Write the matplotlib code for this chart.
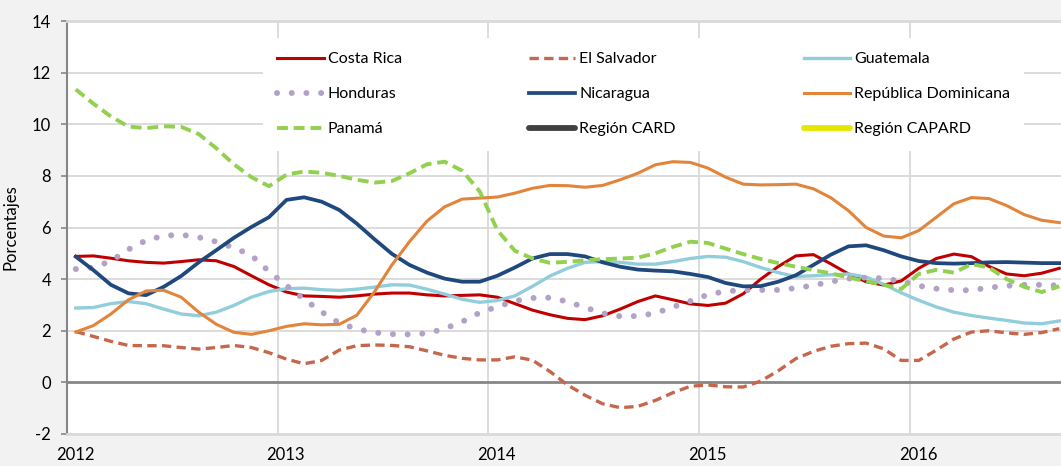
import numpy as np
import matplotlib
matplotlib.use("Agg")
import matplotlib.pyplot as plt
from matplotlib.transforms import ScaledTranslation

plt.rcParams['font.family'] = ['Lato', 'DejaVu Sans']
plt.rcParams['axes.unicode_minus'] = False

# monthly series, Jan 2012 .. Sep 2016 (percent)
costa_rica = [4.88, 4.9, 4.81, 4.71, 4.65, 4.62, 4.68, 4.75, 4.71, 4.49, 4.13, 3.78,
              3.5, 3.35, 3.33, 3.3, 3.35, 3.42, 3.46, 3.46, 3.39, 3.35, 3.37, 3.39,
              3.3, 3.05, 2.8, 2.62, 2.48, 2.43, 2.58, 2.84, 3.13, 3.35, 3.2, 3.04,
              2.98, 3.07, 3.43, 4.0, 4.49, 4.9, 4.95, 4.59, 4.2, 3.9, 3.77, 3.93,
              4.42, 4.8, 4.97, 4.87, 4.49, 4.2, 4.13, 4.23, 4.42]
el_salvador = [1.97, 1.78, 1.59, 1.43, 1.42, 1.42, 1.35, 1.29, 1.35, 1.43, 1.35, 1.15,
               0.9, 0.72, 0.85, 1.25, 1.42, 1.45, 1.43, 1.38, 1.22, 1.05, 0.93, 0.87,
               0.87, 0.99, 0.86, 0.42, -0.1, -0.5, -0.83, -0.98, -0.93, -0.7, -0.4, -0.15,
               -0.1, -0.17, -0.18, 0.05, 0.45, 0.92, 1.2, 1.4, 1.5, 1.52, 1.3, 0.85,
               0.85, 1.25, 1.68, 1.95, 2.0, 1.92, 1.86, 1.93, 2.08]
guatemala = [2.88, 2.9, 3.05, 3.13, 3.05, 2.84, 2.65, 2.58, 2.72, 2.98, 3.3, 3.52,
             3.63, 3.65, 3.59, 3.56, 3.61, 3.69, 3.78, 3.77, 3.61, 3.42, 3.22, 3.1,
             3.17, 3.35, 3.72, 4.12, 4.42, 4.65, 4.68, 4.65, 4.58, 4.58, 4.68, 4.8,
             4.88, 4.85, 4.68, 4.45, 4.25, 4.1, 4.13, 4.17, 4.2, 4.08, 3.8, 3.47,
             3.18, 2.92, 2.72, 2.59, 2.49, 2.4, 2.3, 2.27, 2.38]
honduras = [4.39, 4.45, 4.7, 5.15, 5.5, 5.68, 5.72, 5.62, 5.45, 5.22, 4.92, 4.3,
            3.75, 3.22, 2.73, 2.3, 2.07, 1.93, 1.87, 1.86, 1.9, 2.08, 2.35, 2.7,
            2.93, 3.15, 3.27, 3.28, 3.13, 2.9, 2.68, 2.56, 2.57, 2.68, 2.92, 3.15,
            3.4, 3.53, 3.57, 3.58, 3.58, 3.65, 3.76, 3.9, 4.02, 4.06, 4.03, 3.92,
            3.74, 3.63, 3.57, 3.57, 3.67, 3.74, 3.78, 3.78, 3.75]
nicaragua = [4.87, 4.35, 3.78, 3.45, 3.38, 3.7, 4.12, 4.65, 5.12, 5.6, 6.02, 6.4,
             7.07, 7.17, 7.0, 6.68, 6.15, 5.55, 4.98, 4.55, 4.25, 4.02, 3.9, 3.9,
             4.13, 4.45, 4.8, 4.97, 4.97, 4.88, 4.65, 4.48, 4.37, 4.33, 4.3, 4.2,
             4.08, 3.85, 3.72, 3.73, 3.9, 4.15, 4.55, 4.95, 5.27, 5.31, 5.12, 4.88,
             4.7, 4.62, 4.6, 4.62, 4.65, 4.66, 4.64, 4.62, 4.62]
rep_dominicana = [1.95, 2.2, 2.65, 3.2, 3.54, 3.57, 3.3, 2.72, 2.25, 1.94, 1.86, 2.0,
                  2.17, 2.27, 2.23, 2.25, 2.6, 3.5, 4.55, 5.45, 6.25, 6.8, 7.1, 7.14,
                  7.18, 7.33, 7.52, 7.63, 7.62, 7.56, 7.63, 7.85, 8.1, 8.43, 8.55, 8.52,
                  8.3, 7.95, 7.68, 7.65, 7.66, 7.68, 7.5, 7.15, 6.65, 6.0, 5.67, 5.6,
                  5.88, 6.4, 6.92, 7.16, 7.12, 6.85, 6.5, 6.28, 6.19]
panama = [11.35, 10.8, 10.3, 9.91, 9.85, 9.92, 9.9, 9.62, 9.07, 8.45, 7.95, 7.6,
          8.05, 8.17, 8.12, 8.0, 7.85, 7.74, 7.8, 8.1, 8.45, 8.55, 8.2, 7.4,
          5.9, 5.1, 4.8, 4.63, 4.67, 4.73, 4.77, 4.8, 4.83, 5.0, 5.25, 5.45,
          5.4, 5.18, 4.97, 4.78, 4.62, 4.48, 4.35, 4.22, 4.06, 3.92, 3.78, 3.62,
          4.2, 4.36, 4.25, 4.58, 4.45, 4.0, 3.7, 3.5, 3.72]
region_card = []
region_capard = []

years = [2012, 2013, 2014, 2015, 2016]
yticks = [-2, 0, 2, 4, 6, 8, 10, 12, 14]

months = np.arange(len(costa_rica))
x = 2012 + (months + 0.5) / 12.0

fig = plt.figure(figsize=(10.61, 4.66), dpi=100)
fig.patch.set_facecolor('#f2f2f2')
ax = fig.add_axes([67 / 1061, 1 - 434 / 466, 1 - 67 / 1061, (434 - 21) / 466])
ax.set_facecolor('white')

# grid
for yv in yticks:
    if yv not in (0, -2, 14):
        ax.axhline(yv, color='#d9d9d9', lw=1.3, zorder=1)
for yr in years[1:]:
    ax.axvline(yr, color='#d9d9d9', lw=1.3, zorder=1)
ax.axhline(0, color='#868686', lw=2.0, zorder=2)

h_cr, = ax.plot(x, costa_rica, color='#c00000', lw=2.2, label='Costa Rica', zorder=3)
h_es, = ax.plot(x, el_salvador, color='#c6674d', lw=2.4, dashes=(2.8, 1.6),
                label='El Salvador', zorder=3)
h_gu, = ax.plot(x, guatemala, color='#92cddc', lw=2.4, label='Guatemala', zorder=3)
h_ho, = ax.plot(x, honduras, color='#b3a2c7', lw=4.3, linestyle=(0, (0.01, 2.45)),
                dash_capstyle='round', label='Honduras', zorder=3)
h_ni, = ax.plot(x, nicaragua, color='#1f497d', lw=2.7, label='Nicaragua', zorder=3)
h_rd, = ax.plot(x, rep_dominicana, color='#e2843a', lw=2.2,
                label='República Dominicana', zorder=3)
h_pa, = ax.plot(x, panama, color='#92d050', lw=2.8, dashes=(2.8, 1.5),
                label='Panamá', zorder=3)
h_card, = ax.plot(region_card, region_card, color='#404040', lw=4.2,
                  label='Región CARD', solid_capstyle='round')
h_capard, = ax.plot(region_capard, region_capard, color='#e6e600', lw=4.2,
                    label='Región CAPARD', solid_capstyle='round')

ax.set_xlim(2012, 2012 + 994 / 210.75)
ax.set_ylim(-2, 14)
ax.set_yticks(yticks)
ax.set_xticks(years)
ax.set_xticklabels([str(y) for y in years])

ax.tick_params(axis='y', length=4.5, width=1.2, color='#868686', pad=7,
               labelsize=12, direction='out')
ax.tick_params(axis='x', length=0, pad=9, labelsize=12)
for lab in ax.get_xticklabels():
    lab.set_transform(lab.get_transform() + ScaledTranslation(0.08, 0, fig.dpi_scale_trans))

ax.spines['right'].set_visible(False)
ax.spines['left'].set_color('#868686')
ax.spines['left'].set_linewidth(1.5)
for s in ('top', 'bottom'):
    ax.spines[s].set_color('#d9d9d9')
    ax.spines[s].set_linewidth(2.0)

ax.set_ylabel('Porcentajes', fontsize=12)
ax.yaxis.set_label_coords(-0.049, 0.5)

# legend fills column by column, so order handles to read row by row
handles = [h_cr, h_ho, h_pa, h_es, h_ni, h_card, h_gu, h_rd, h_capard]
leg = ax.legend(handles=handles, labels=[h.get_label() for h in handles],
                ncol=3, loc='upper left', bbox_to_anchor=(0.197, 0.5, 0.766, 0.459),
                mode='expand', borderaxespad=0, fontsize=11.5, handlelength=2.9,
                handletextpad=0.25, labelspacing=1.3, borderpad=0.9,
                frameon=True, fancybox=False)
leg.get_frame().set_facecolor('white')
leg.get_frame().set_edgecolor('none')
leg.get_frame().set_alpha(1)
leg.set_zorder(5)

fig.savefig('out.png', dpi=100, facecolor=fig.get_facecolor())
